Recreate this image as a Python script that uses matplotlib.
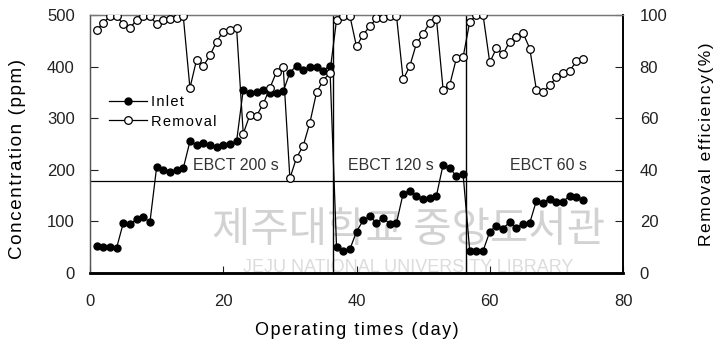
import numpy as np
import matplotlib
matplotlib.use('Agg')
import matplotlib.pyplot as plt
from matplotlib.lines import Line2D

plt.rcParams['font.family'] = ['Liberation Sans', 'DejaVu Sans']

# operating day of each sample, grouped by run phase
days = [1, 2, 3, 4,
        5, 6, 7, 8, 9,
        10, 11, 12, 13, 14,
        15, 16, 17, 18, 19, 20, 21, 22,
        23, 24, 25, 26, 27, 28, 29,
        30, 31, 32, 33, 34, 35, 36,
        37, 38, 39, 40, 41, 42, 43, 44, 45, 46,
        47, 48, 49, 50, 51, 52,
        53, 54, 55, 56,
        57, 58, 59,
        60, 61, 62, 63, 64, 65, 66,
        67, 68, 69, 70, 71, 72, 73, 74]

# inlet concentration (ppm)
inlet = [52, 50, 51, 49,
         97, 95, 104, 108, 99,
         205, 200, 195, 199, 203,
         255, 248, 252, 249, 244, 249, 250, 255,
         355, 348, 350, 355, 348, 348, 352,
         388, 402, 394, 399, 399, 392, 402,
         51, 43, 46, 80, 102, 110, 97, 107, 95, 97,
         154, 159, 149, 143, 146, 150,
         210, 204, 187, 191,
         42, 43, 43,
         80, 92, 86, 99, 88, 95, 97,
         140, 136, 144, 138, 138, 150, 147, 141]

# removal efficiency (%)
removal = [94, 97, 99.5, 99.5, 96.5, 95, 98, 99.7, 99.5, 96.5, 98, 98.3, 99, 99.5,
           71.7, 82.7, 80.2, 84.3, 89.7, 93.6, 94.3, 95,
           54, 61.3, 61, 65.5, 71.7, 78, 79.8,
           36.7, 44.7, 49.3, 58.2, 70, 74.6, 77.6,
           98, 99.7, 99.7, 87.8, 92.4, 95.6, 98.7, 98.7, 99.7, 99.7,
           75, 80.2, 89, 92.7, 97, 98.5,
           71, 73, 83.3, 83.7,
           97.4, 99.9, 99.9,
           81.6, 87.1, 84.8, 89.7, 91.5, 93, 87,
           71, 70, 72.8, 75.8, 77.7, 78.4, 82, 83]

phase_edges = [36.5, 56.5]
phase_labels = ['EBCT 200 s', 'EBCT 120 s', 'EBCT 60 s']
phase_label_x = [28.3, 51.6, 74.6]
ref_level = 178


def spaced(s):
    # loosen letter spacing slightly with hair spaces
    return '\u200a'.join(s)


fig = plt.figure(figsize=(7.2, 3.47), dpi=100)
ax = fig.add_axes([0.125, 0.2133, 0.7403, 0.7435])

# library stamp in the background
ax.text(0.597, 0.163, '제주대학교 중앙도서관', transform=ax.transAxes,
        ha='center', va='center', fontsize=30, color='#d2d2d2',
        family=['Noto Sans CJK KR', 'DejaVu Sans'], zorder=0)
ax.text(0.597, 0.02, 'JEJU NATIONAL UNIVERSITY LIBRARY', transform=ax.transAxes,
        ha='center', va='center', fontsize=13, color='#dcdcdc', zorder=0)

ax.plot(days, inlet, '-o', color='black', lw=0.9, ms=5,
        mfc='black', mec='black', zorder=3)

ax.axhline(ref_level, color='black', lw=0.9, zorder=2)
for d in phase_edges:
    ax.axvline(d, color='black', lw=1.0, zorder=2)

for x, lab in zip(phase_label_x, phase_labels):
    ax.text(x, 208, lab, ha='right', va='center', fontsize=11.5, color='#333333')

ax2 = ax.twinx()
ax2.plot(days, removal, '-o', color='black', lw=0.9, ms=5.5,
         mfc='white', mec='black', mew=0.9, zorder=3)

ax.set_xlim(0, 80)
ax.set_ylim(0, 500)
ax2.set_ylim(0, 100)
ax.set_xticks([0, 20, 40, 60, 80])
ax.set_yticks([0, 100, 200, 300, 400, 500])
ax2.set_yticks([0, 20, 40, 60, 80, 100])

ax.tick_params(axis='y', direction='in', length=6, width=0.8, pad=11,
               labelsize=12, colors='#222222', right=False)
ax.tick_params(axis='x', direction='in', length=5, width=0.8, pad=15,
               labelsize=12, colors='#222222', top=False)
ax2.tick_params(axis='y', direction='in', length=6, width=0.8, pad=12,
                labelsize=12, colors='#222222')

for a in (ax, ax2):
    a.spines['top'].set_color('#777777')
    a.spines['top'].set_linewidth(0.9)
    a.spines['left'].set_color('#555555')
    a.spines['left'].set_linewidth(0.9)
    a.spines['bottom'].set_linewidth(1.8)
    a.spines['right'].set_linewidth(1.2)

ax.set_ylabel(spaced('Concentration (ppm)'), fontsize=13.5)
ax.yaxis.set_label_coords(-0.12, 0.44)
ax2.set_ylabel(spaced('Removal efficiency(%)'), fontsize=12.5)
ax2.yaxis.set_label_coords(1.142, 0.5)
ax.set_xlabel(spaced('Operating times (day)'), fontsize=13)
ax.xaxis.set_label_coords(0.5, -0.19)

handles = [Line2D([], [], color='black', lw=0.9, marker='o', ms=5,
                  mfc='black', mec='black'),
           Line2D([], [], color='black', lw=0.9, marker='o', ms=5.5,
                  mfc='white', mec='black', mew=0.9)]
ax2.legend(handles, [spaced('Inlet'), spaced('Removal')], loc='center left',
           bbox_to_anchor=(0.035, 0.624), frameon=False, fontsize=10.5,
           handlelength=2.6, handletextpad=0.3, labelspacing=0.35,
           borderpad=0, borderaxespad=0)

fig.savefig('out.png', dpi=100)
